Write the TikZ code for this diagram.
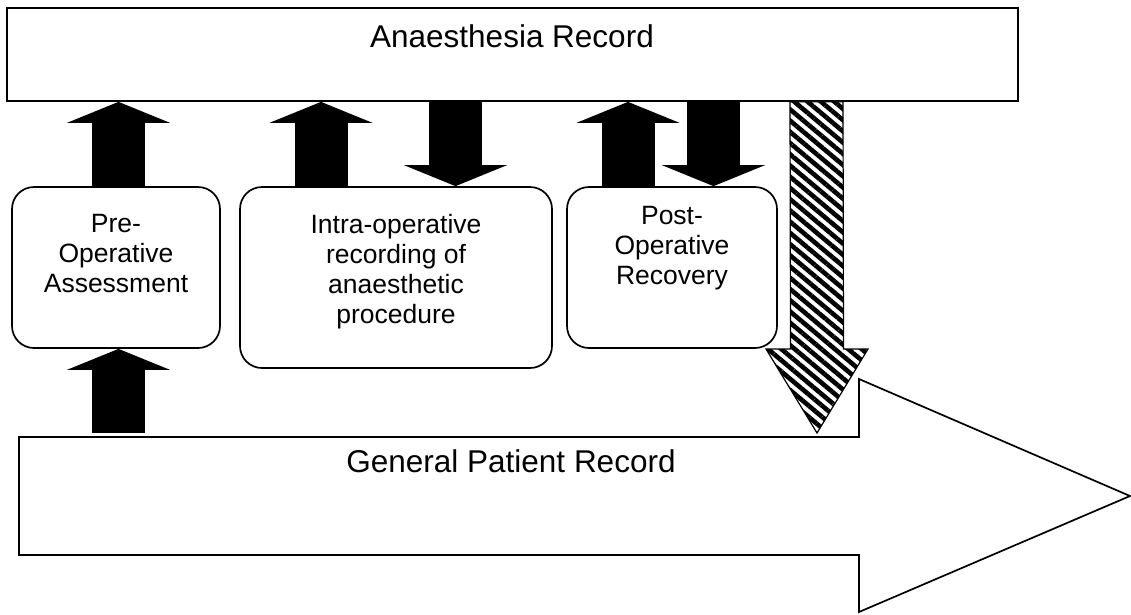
\documentclass[tikz,border=0pt]{standalone}
\usepackage{fontspec}
\setmainfont{Liberation Sans}
\usetikzlibrary{arrows.meta,calc,patterns.meta}

\begin{document}
\begin{tikzpicture}[x=1pt, y=-1pt, line width=1.7pt]
\tikzset{
  stage/.style={
    draw, rectangle, rounded corners=22pt,
    minimum height=161pt, fill=white
  },
  stagetext/.style={
    anchor=north, align=center, inner sep=0pt,
    font=\fontsize{26.5}{30}\selectfont
  },
  recordtext/.style={
    anchor=base, inner sep=0pt,
    font=\fontsize{31.5}{36}\selectfont
  },
  fatarrow/.style={
    line width=53pt,
    -{Triangle[width=103pt, length=21pt, line width=0pt]}
  },
  hatched/.style={
    line width=1.2pt, preaction={fill=white},
    pattern={Lines[angle=-40, distance=8.6pt, line width=4.6pt]}
  }
}
\useasboundingbox (0,0) rectangle (1131,614);

\node[draw, minimum width=1011pt, minimum height=93pt] (anrec) at (512.5,54.5) {};
\node[recordtext] (anrectext) at (512,47) {Anaesthesia Record};

\node[stage, minimum width=208pt] (preop) at (116,267.5) {};
\node[stage, minimum width=312pt, minimum height=181pt] (intra) at (396,277.5) {};
\node[stage, minimum width=210pt] (postop) at (672,267.5) {};

\node[stagetext] (preoptext) at (116,213) {Pre-\\Operative\\Assessment};
\node[stagetext] (intratext) at (396,213) {Intra-operative\\recording of\\anaesthetic\\procedure};
\node[stagetext] (postoptext) at (672,205) {Post-\\Operative\\Recovery};

% general patient record, drawn as a big arrow
\node[minimum width=840pt, minimum height=118pt, inner sep=0pt, outer sep=0pt] (patient) at (439,496) {};
\draw (patient.north west) -- (patient.north east) -- ++(0,-58)
  -- ($(patient.east)+(271,0)$) -- ($(patient.south east)+(0,57)$)
  -- (patient.south east) -- (patient.south west) -- cycle;
\node[recordtext] (patienttext) at (511,472) {General Patient Record};

% black arrows
\draw[fatarrow] ([xshift=2.5pt]preop.north) -- ([xshift=2.5pt]preop.north |- anrec.south);
\draw[fatarrow] ([xshift=2.5pt,yshift=4pt]patient.north -| preop.south) -- ([xshift=2.5pt]preop.south);
\draw[fatarrow] ([xshift=-75pt]intra.north) -- ([xshift=-75pt]intra.north |- anrec.south);
\draw[fatarrow] ([xshift=59.5pt]intra.north |- anrec.south) -- ([xshift=59.5pt]intra.north);
\draw[fatarrow] ([xshift=-44pt]postop.north) -- ([xshift=-44pt]postop.north |- anrec.south);
\draw[fatarrow] ([xshift=41.5pt]postop.north |- anrec.south) -- ([xshift=41.5pt]postop.north);

% hatched arrow down to the patient record
\coordinate (hatchtop) at ([xshift=304pt]anrec.south);
\coordinate (hatchtip) at ([xshift=378pt,yshift=4pt]patient.north);
\draw[hatched] ($(hatchtop)+(-26.5,0)$) -- ($(hatchtop)+(26.5,0)$)
  -- ($(hatchtip)+(26.5,-84)$) -- ($(hatchtip)+(51,-84)$) -- (hatchtip)
  -- ($(hatchtip)+(-51,-84)$) -- ($(hatchtip)+(-26.5,-84)$) -- cycle;
\end{tikzpicture}
\end{document}
